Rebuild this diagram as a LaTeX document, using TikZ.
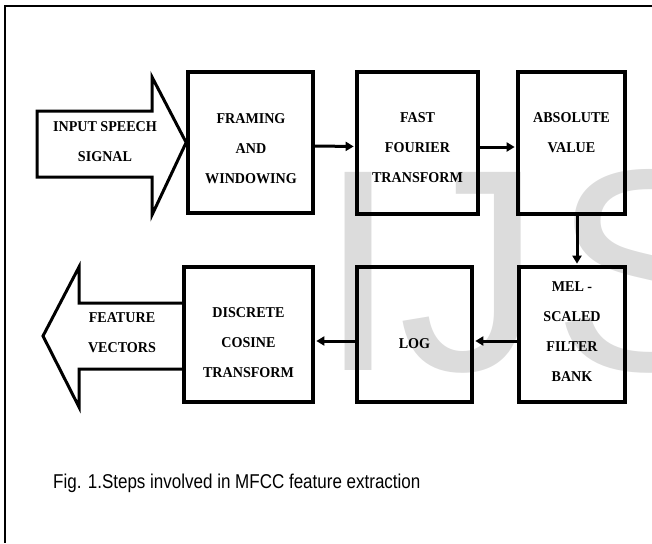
\documentclass[tikz,border=0pt]{standalone}
\usepackage{fontspec}
\setmainfont{Liberation Serif}
\newfontfamily\boite[FakeStretch=0.94]{Liberation Serif}
\newfontfamily\legende[FakeStretch=0.85]{Liberation Sans}
\newfontfamily\filigrane{Liberation Sans}
\usetikzlibrary{arrows.meta}
\definecolor{gris}{HTML}{DCDCDC}
\tikzset{
    bloc/.style={draw, line width=3.7pt, inner sep=0pt},
    texte/.style={align=center, inner sep=0pt, font=\boite\bfseries\fontsize{15}{30}\selectfont},
    marque/.style={anchor=base west, inner sep=0pt, text=gris, font=\filigrane\fontsize{288}{288}\selectfont},
    fleche/.style={line width=3pt, shorten >=1.5pt, -{Triangle[length=8pt,width=9pt]}},
    grosse/.style={line width=3pt}
}

\begin{document}
\begin{tikzpicture}[x=1pt,y=-1pt]
            \useasboundingbox (0,0) rectangle (652,543);
            \draw[line width=2pt] (652,6) -- (5,6) -- (5,543);
            \begin{scope}
                \clip (0,0) rectangle (652,543);
                \node[marque] (marque-ij) at (318,370) {IJ};
                \node[marque] (marque-s) at (552,370) {S};
            \end{scope}
            \node[bloc, minimum width=125pt, minimum height=141pt] (framing) at (250.5,142.5) {};
            \node[bloc, minimum width=121pt, minimum height=142pt] (fft) at (417.5,143) {};
            \node[bloc, minimum width=107pt, minimum height=142pt] (abs) at (571.5,143) {};
            \node[bloc, minimum width=106pt, minimum height=135pt] (mel) at (572,334.5) {};
            \node[bloc, minimum width=115pt, minimum height=135pt] (log) at (414.5,334.5) {};
            \node[bloc, minimum width=129pt, minimum height=135pt] (dct) at (248.5,334.5) {};
                \node[texte] (framing-t) at (251,149) {FRAMING\\AND\\WINDOWING};
                \node[texte] (fft-t) at (417.5,148) {FAST\\FOURIER\\TRANSFORM};
                \node[texte] (abs-t) at (571.5,133) {ABSOLUTE\\VALUE};
                \node[texte] (mel-t) at (572,332) {MEL -\\SCALED\\FILTER\\BANK};
                \node[texte] (log-t) at (414.5,344) {LOG};
                \node[texte] (dct-t) at (248.5,343) {DISCRETE\\COSINE\\TRANSFORM};
            \draw[fleche] ([yshift=-3.5pt]framing.east) -- ([yshift=-3.5pt]fft.west);
            \draw[fleche] ([yshift=-4pt]fft.east) -- ([yshift=-4pt]abs.west);
            \draw[fleche] ([xshift=5.5pt]abs.south) -- ([xshift=5pt]mel.north);
            \draw[fleche] ([yshift=-6.5pt]mel.west) -- ([yshift=-6.5pt]log.east);
            \draw[fleche] ([yshift=-6.5pt]log.west) -- ([yshift=-6.5pt]dct.east);
            \draw[grosse] (37,111) -- (152,111) -- (152,77) -- (framing.west) -- (152,215) -- (152,177) -- (37,177) -- cycle;
                \node[texte] (entree) at (105,142) {INPUT SPEECH\\SIGNAL};
            \draw[grosse] (dct.west |- 0,303) -- (79,303) -- (79,267) -- (43,336) -- (79,407) -- (79,369) -- (dct.west |- 0,369);
                \node[texte] (sortie) at (122,333) {FEATURE\\VECTORS};
            \node[anchor=base west, inner sep=0pt, font=\legende\fontsize{20}{24}\selectfont] (titre) at (53,488) {Fig. 1.Steps involved in MFCC feature extraction};
        \end{tikzpicture}
\end{document}
